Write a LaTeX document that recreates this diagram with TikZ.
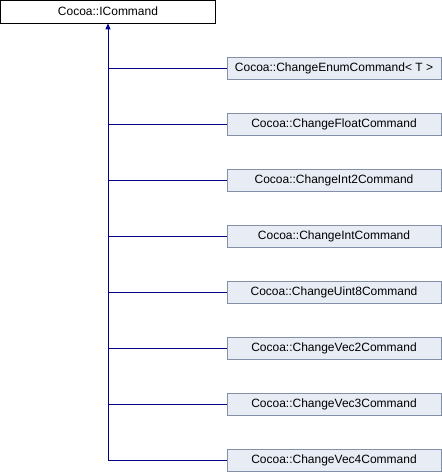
\documentclass[tikz,border=0pt]{standalone}
\usepackage{fontspec}
\setmainfont{Liberation Sans}
\usetikzlibrary{arrows.meta}
\definecolor{boxfill}{HTML}{E8ECF5}
\definecolor{boxline}{HTML}{8490A8}
\definecolor{edge}{HTML}{00008B}
\begin{document}
\begin{tikzpicture}[x=1pt,y=-1pt,
  basebox/.style={draw=black,fill=white,minimum width=215pt,minimum height=23pt,inner sep=0pt,font=\fontsize{12}{14}\selectfont,line width=0.8pt},
  subbox/.style={draw=boxline,fill=boxfill,minimum width=214pt,minimum height=22pt,inner sep=0pt,font=\fontsize{12}{14}\selectfont,line width=0.8pt},
  link/.style={draw=edge,line width=0.9pt}]
\useasboundingbox (0,0) rectangle (442,472);
\node[basebox] (base) at (108,11.5) {Cocoa::ICommand};
\node[subbox] (c1) at (334,68.5) {Cocoa::ChangeEnumCommand< T >};
\node[subbox] (c2) at (334,124.5) {Cocoa::ChangeFloatCommand};
\node[subbox] (c3) at (334,180.5) {Cocoa::ChangeInt2Command};
\node[subbox] (c4) at (334,236.5) {Cocoa::ChangeIntCommand};
\node[subbox] (c5) at (334,292.5) {Cocoa::ChangeUint8Command};
\node[subbox] (c6) at (334,348.5) {Cocoa::ChangeVec2Command};
\node[subbox] (c7) at (334,404.5) {Cocoa::ChangeVec3Command};
\node[subbox] (c8) at (334,460.5) {Cocoa::ChangeVec4Command};
\coordinate (bot) at (108,460.5);
\draw[link,-{Triangle[length=6pt,width=5pt]}] (bot) -- (base.south);
\foreach \i in {1,...,8} {
  \draw[link] (c\i.west) -- (bot |- c\i.west);
}
\end{tikzpicture}
\end{document}
